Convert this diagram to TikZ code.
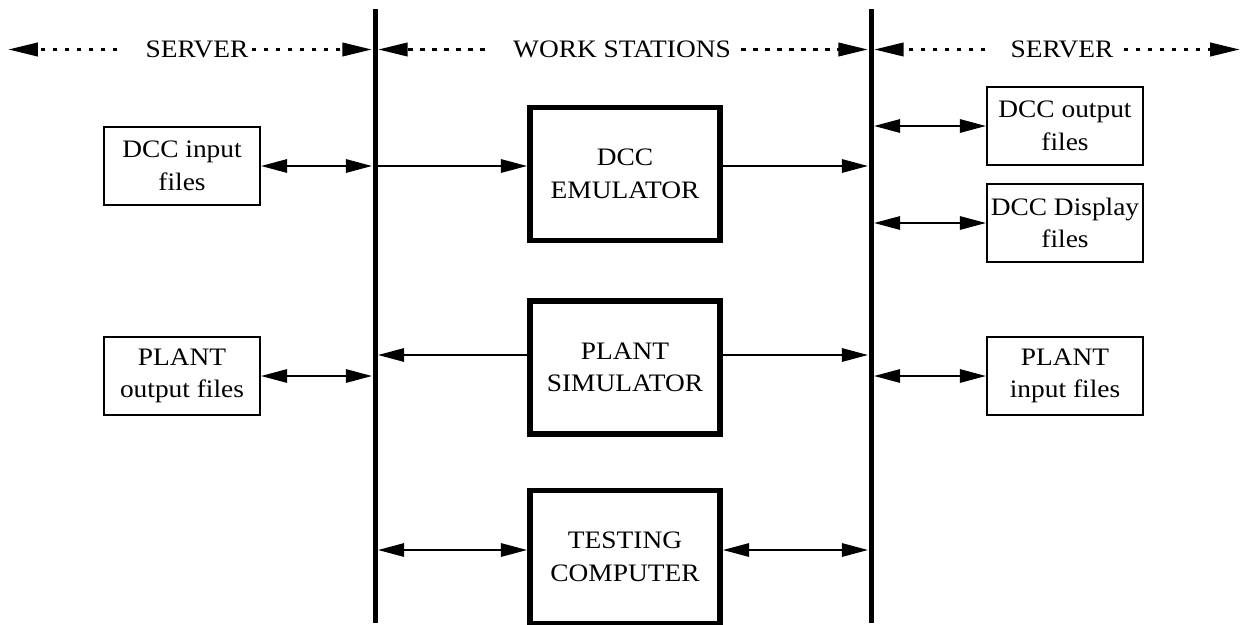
\documentclass[tikz,border=0pt]{standalone}
\usepackage{fontspec}
\setmainfont{Liberation Serif}[FakeStretch=1.09]
\usetikzlibrary{arrows.meta}
\begin{document}
\begin{tikzpicture}[x=0.02cm,y=-0.02cm,
  font=\fontsize{14.3}{18.5}\selectfont,
  filebox/.style={draw, line width=1pt, inner sep=0pt, align=center,
    minimum width=3.12cm, minimum height=1.56cm},
  bigbox/.style={draw, line width=3.2pt, inner sep=0pt, align=center,
    minimum width=3.8cm, minimum height=2.66cm},
  bus/.style={fill=black, inner sep=0pt, minimum width=0.1cm, minimum height=12.28cm},
  conn/.style={line width=1.5pt},
  onehead/.style={-{Triangle[length=15pt,width=7.5pt]}},
  twohead/.style={{Triangle[length=15pt,width=7.5pt]}-{Triangle[length=15pt,width=7.5pt]}},
  hdr/.style={line width=1.9pt, dash pattern=on 0.09cm off 0.15cm,
    -{Triangle[length=17pt,width=7.5pt]}},
  hdrtext/.style={inner sep=0pt}]
\useasboundingbox (0,0) rectangle (1250,625);

% buses
\node[bus] (lb) at (375,316) {};
\node[bus] (rb) at (871,316) {};

% header
\coordinate (lt) at (8,49.5);
\coordinate (rt) at (1240,49.5);
\node[hdrtext] (s1) at (197,49.5) {SERVER};
\node[hdrtext] (ws) at (622,49.5) {WORK STATIONS};
\node[hdrtext] (s2) at (1062,49.5) {SERVER};
\draw[hdr] ([xshift=-0.56cm]s1.west) -- (lt);
\draw[hdr] ([xshift=0.06cm]s1.east) -- (lb.west |- lt);
\draw[hdr] ([xshift=-0.56cm]ws.west) -- (lb.east |- lt);
\draw[hdr] ([xshift=0.2cm]ws.east) -- (rb.west |- lt);
\draw[hdr] ([xshift=-0.5cm]s2.west) -- (rb.east |- lt);
\draw[hdr] ([xshift=0.2cm]s2.east) -- (rt);

% file boxes
\node[filebox] (din) at (182,166) {DCC input\\files};
\node[filebox] (pout) at (182,376) {PLANT\\output files};
\node[filebox] (dout) at (1065,126) {DCC output\\files};
\node[filebox] (ddisp) at (1065,223) {DCC Display\\files};
\node[filebox] (pin) at (1065,376) {PLANT\\input files};

% big boxes
\node[bigbox] (emu) at (625,174) {DCC\\EMULATOR};
\node[bigbox] (sim) at (625,367.5) {PLANT\\SIMULATOR};
\node[bigbox] (test) at (625,557) {TESTING\\COMPUTER};

% helper rows
\coordinate (yemu) at (0,166);
\coordinate (ysim) at (0,355);
\coordinate (ytest) at (0,550);

% connectors
\draw[conn,twohead] (din.east) -- (din.east -| lb.west);
\draw[conn,onehead] (lb.east |- yemu) -- (emu.west |- yemu);
\draw[conn,onehead] (emu.east |- yemu) -- (rb.west |- yemu);
\draw[conn,twohead] (rb.east |- dout.west) -- (dout.west);
\draw[conn,twohead] (rb.east |- ddisp.west) -- (ddisp.west);
\draw[conn,twohead] (pout.east) -- (pout.east -| lb.west);
\draw[conn,onehead] (sim.west |- ysim) -- (lb.east |- ysim);
\draw[conn,onehead] (sim.east |- ysim) -- (rb.west |- ysim);
\draw[conn,twohead] (rb.east |- pin.west) -- (pin.west);
\draw[conn,twohead] (lb.east |- ytest) -- (test.west |- ytest);
\draw[conn,twohead] (test.east |- ytest) -- (rb.west |- ytest);
\end{tikzpicture}
\end{document}
